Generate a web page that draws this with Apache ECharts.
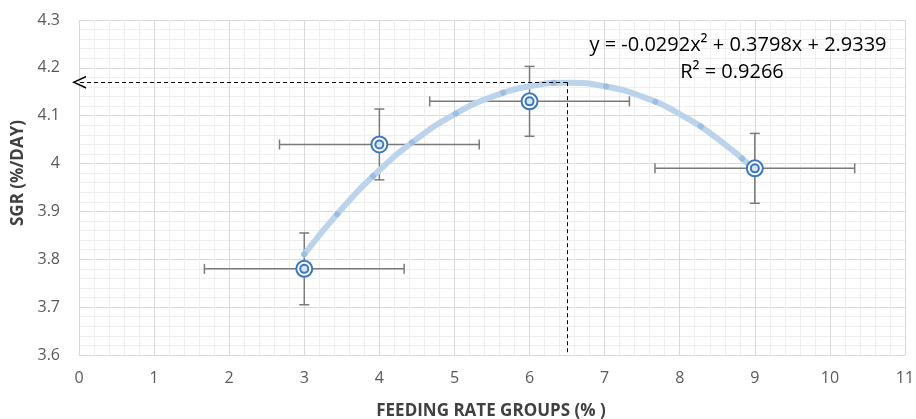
<!DOCTYPE html>
<html><head><meta charset="utf-8">
<script src="https://cdn.jsdelivr.net/npm/echarts@6/dist/echarts.min.js"></script>
<style>html,body{margin:0;padding:0;background:#fff}#c{width:916px;height:419px}</style>
</head><body><div id="c"></div>
<script>
// Group means
const groupX = [3, 4, 6, 9];
const sgrMean = [3.78, 4.04, 4.13, 3.99];
// Error half-widths
const sgrErr = [0.075, 0.074, 0.073, 0.073];
const xErr = [1.33, 1.33, 1.33, 1.33];
// Trend line samples (polynomial trendline as drawn)
const trendX = [3, 3.5, 4, 4.5, 5, 5.5, 6, 6.5, 7, 7.5, 8, 8.5, 9];
const trendY = [3.8105, 3.9055, 3.9859, 4.0517, 4.1029, 4.1395, 4.1615, 4.1689, 4.1617, 4.1399, 4.1035, 4.0525, 3.9869];
// Optimum guide
const optimumX = 6.5;
const optimumY = 4.17;
const equationText = 'y = -0.0292x² + 0.3798x + 2.9339';
const r2Text = 'R² = 0.9266';
const xName = 'FEEDING RATE GROUPS (% )';
const yName = 'SGR (%/DAY)';
const xTicks = [0,1,2,3,4,5,6,7,8,9,10,11];
const yTicks = [3.6,3.7,3.8,3.9,4.0,4.1,4.2,4.3];

const FONT = '"Open Sans", "Liberation Sans", sans-serif';
const errData = groupX.map((x, i) => [x, sgrMean[i], xErr[i], sgrErr[i]]);
const trendData = trendX.map((x, i) => [x, trendY[i]]);

const chart = echarts.init(document.getElementById('c'), null, {renderer: 'canvas'});
chart.setOption({
  animation: false,
  grid: {left: 79, right: 11, top: 20, bottom: 64, containLabel: false, outerBoundsMode: 'none'},
  xAxis: {
    type: 'value', min: xTicks[0], max: xTicks[xTicks.length-1], interval: 1,
    axisLine: {show: true, lineStyle: {color: '#d9d9d9', width: 1}},
    axisTick: {show: false},
    axisLabel: {fontFamily: FONT, fontSize: 16, color: '#595959', margin: 15},
    splitLine: {show: true, lineStyle: {color: '#d9d9d9', width: 1}},
    minorTick: {show: false, splitNumber: 5},
    minorSplitLine: {show: true, lineStyle: {color: '#efefef', width: 1}}
  },
  yAxis: {
    type: 'value', min: yTicks[0], max: yTicks[yTicks.length-1], interval: 0.1,
    axisLine: {show: false},
    axisTick: {show: false},
    axisLabel: {fontFamily: FONT, fontSize: 16, color: '#595959', margin: 19,
      formatter: v => String(Math.round(v*10)/10)},
    splitLine: {show: true, lineStyle: {color: '#d9d9d9', width: 1}},
    minorTick: {show: false, splitNumber: 5},
    minorSplitLine: {show: true, lineStyle: {color: '#efefef', width: 1}}
  },
  graphic: [
    {type: 'text', x: 738, y: 45, z: 10, style: {text: equationText, font: '20px ' + FONT, fill: '#000', textAlign: 'center', textVerticalAlign: 'middle'}},
    {type: 'text', x: 732, y: 72, z: 10, style: {text: r2Text, font: '20px ' + FONT, fill: '#000', textAlign: 'center', textVerticalAlign: 'middle'}},
    {type: 'text', x: 491, y: 411, style: {text: xName, font: 'bold 17px ' + FONT, fill: '#404040', textAlign: 'center', textVerticalAlign: 'middle'}},
    {type: 'text', x: 18, y: 173, rotation: Math.PI / 2, style: {text: yName, font: 'bold 17px ' + FONT, fill: '#404040', textAlign: 'center', textVerticalAlign: 'middle'}}
  ],
  series: [
    {
      type: 'custom', name: 'err', data: errData, z: 2,
      encode: {x: 0, y: 1},
      renderItem: function (params, api) {
        const x = api.value(0), y = api.value(1), ex = api.value(2), ey = api.value(3);
        const l = api.coord([x - ex, y]), r = api.coord([x + ex, y]);
        const t = api.coord([x, y + ey]), b = api.coord([x, y - ey]);
        const st = {stroke: '#7a7a7a', lineWidth: 1.5};
        const cap = 5;
        return {type: 'group', children: [
          {type: 'line', shape: {x1: l[0], y1: l[1], x2: r[0], y2: r[1]}, style: st},
          {type: 'line', shape: {x1: l[0], y1: l[1]-cap, x2: l[0], y2: l[1]+cap}, style: st},
          {type: 'line', shape: {x1: r[0], y1: r[1]-cap, x2: r[0], y2: r[1]+cap}, style: st},
          {type: 'line', shape: {x1: t[0], y1: t[1], x2: b[0], y2: b[1]}, style: st},
          {type: 'line', shape: {x1: t[0]-cap, y1: t[1], x2: t[0]+cap, y2: t[1]}, style: st},
          {type: 'line', shape: {x1: b[0]-cap, y1: b[1], x2: b[0]+cap, y2: b[1]}, style: st}
        ]};
      }
    },
    {
      type: 'line', name: 'trend', data: trendData, smooth: true, symbol: 'none', z: 3,
      lineStyle: {color: '#bcd3ec', width: 6, cap: 'round'},
      markLine: {
        silent: true, symbol: ['none', 'none'],
        lineStyle: {color: '#000', type: [4, 3], width: 1},
        label: {show: false},
        data: [
          [{coord: [optimumX, optimumY]}, {coord: [optimumX, yTicks[0]]}],
          [{coord: [optimumX, optimumY]}, {coord: [xTicks[0], optimumY],
            symbol: 'path://M0,10 L5,0 L10,10 L8.6,10 L5,2.4 L1.4,10 Z', symbolSize: [13, 14]}]
        ]
      }
    },
    {
      type: 'line', name: 'trenddots', data: trendData, smooth: true, symbol: 'none', z: 4,
      lineStyle: {color: '#9dbde3', width: 6, cap: 'round', type: [0.01, 52]}
    },
    {
      type: 'custom', name: 'markers', data: errData, z: 5,
      encode: {x: 0, y: 1},
      renderItem: function (params, api) {
        const p = api.coord([api.value(0), api.value(1)]);
        return {type: 'group', children: [
          {type: 'circle', shape: {cx: p[0], cy: p[1], r: 8}, style: {fill: '#fff', stroke: '#3a78c2', lineWidth: 2}},
          {type: 'circle', shape: {cx: p[0], cy: p[1], r: 4}, style: {fill: '#dbe6f4', stroke: '#3a78c2', lineWidth: 2}}
        ]};
      }
    }
  ]
});
</script></body></html>
